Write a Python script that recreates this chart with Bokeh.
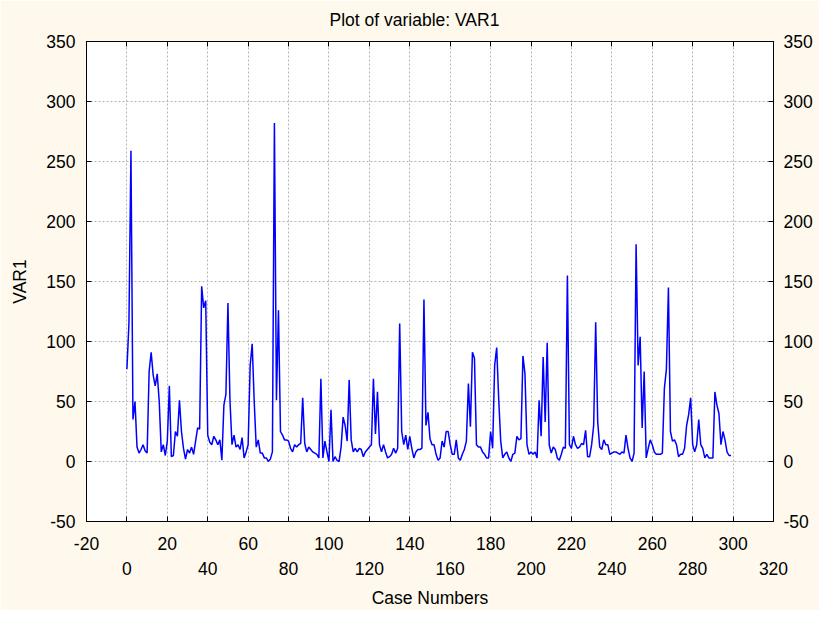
import numpy as np
from bokeh.plotting import figure
from bokeh.models import LinearAxis, FixedTicker, Range1d, ColumnDataSource
from bokeh.embed import file_html
from bokeh.resources import INLINE

# ---- data -------------------------------------------------------------
var1 = [
    77, 115, 259, 35, 50, 12, 7, 10, 14, 9,
    7, 75, 91, 72, 63, 73, 50, 8, 14, 5,
    17, 63, 4, 5, 25, 21, 51, 25, 11, 2,
    10, 7, 12, 6, 17, 28, 27, 146, 128, 134,
    22, 16, 14, 21, 18, 14, 18, 1, 47, 56,
    132, 51, 14, 22, 12, 14, 10, 20, 3, 8,
    14, 80, 98, 50, 12, 18, 7, 7, 3, 3,
    0, 2, 8, 282, 51, 126, 25, 22, 18, 18,
    17, 11, 8, 14, 12, 14, 15, 53, 15, 8,
    12, 10, 8, 7, 6, 3, 69, 3, 17, 8,
    0, 43, 0, 4, 1, 0, 12, 37, 30, 17,
    68, 18, 8, 11, 8, 11, 10, 4, 8, 10,
    12, 14, 69, 23, 58, 14, 8, 14, 8, 3,
    4, 6, 11, 7, 11, 115, 25, 14, 22, 10,
    21, 11, 3, 8, 10, 10, 11, 135, 30, 41,
    19, 14, 14, 6, 1, 3, 17, 12, 25, 25,
    14, 6, 6, 18, 3, 1, 6, 10, 17, 65,
    29, 91, 86, 14, 12, 12, 8, 6, 3, 3,
    25, 11, 80, 95, 52, 17, 3, 6, 8, 3,
    0, 6, 7, 21, 18, 19, 88, 73, 14, 6,
    8, 6, 8, 3, 51, 21, 87, 33, 99, 14,
    7, 12, 10, 3, 1, 6, 12, 11, 155, 14,
    11, 21, 14, 11, 12, 15, 14, 26, 4, 4,
    14, 30, 116, 33, 12, 10, 18, 14, 14, 6,
    7, 8, 8, 7, 6, 8, 7, 22, 11, 3,
    0, 7, 181, 80, 104, 28, 75, 3, 11, 18,
    14, 8, 6, 6, 6, 7, 61, 77, 145, 25,
    17, 18, 14, 4, 6, 6, 11, 30, 39, 53,
    14, 8, 14, 35, 14, 11, 3, 6, 3, 3,
    3, 58, 47, 40, 14, 25, 18, 8, 5, 5,
]
case_numbers = list(range(0, len(var1)))

x_ticks = list(range(-20, 321, 20))
x_labels_upper = list(range(-20, 301, 40))
x_labels_lower = list(range(0, 321, 40))
y_ticks = list(range(-50, 351, 50))

FONT = "Liberation Sans"
FS = "17.5px"
CREAM = "#FEF9EC"

src = ColumnDataSource(dict(x=case_numbers, y=var1))

p = figure(width=819, height=610,
           x_range=Range1d(-20, 320), y_range=Range1d(-50, 350),
           output_backend="svg", toolbar_location=None,
           min_border_left=86, min_border_right=46,
           min_border_top=40, min_border_bottom=88)

p.background_fill_color = "white"
p.border_fill_color = CREAM
p.outline_line_color = "black"
p.outline_line_width = 1

p.title.text = "Plot of variable: VAR1"
p.title.align = "left"
p.title.offset = 243
p.title.vertical_align = "top"
p.title.text_font = FONT
p.title.text_font_size = FS
p.title.text_font_style = "normal"
p.title.text_color = "black"
p.title.standoff = 19

# grid
p.xgrid.ticker = FixedTicker(ticks=x_ticks)
p.ygrid.ticker = FixedTicker(ticks=y_ticks)
for g in (p.xgrid, p.ygrid):
    g.grid_line_color = "#b4b4b4"
    g.grid_line_dash = "2 2"
    g.grid_line_width = 1


def style_axis(ax, ticks, minor=None, tick_in=5):
    ax.ticker = FixedTicker(ticks=ticks, minor_ticks=minor or [])
    ax.major_tick_in = tick_in
    ax.major_tick_out = 0
    ax.minor_tick_in = tick_in
    ax.minor_tick_out = 0
    ax.minor_tick_line_color = "black"
    ax.major_tick_line_color = "black"
    ax.axis_line_color = "black"
    ax.major_label_text_font = FONT
    ax.major_label_text_font_size = FS
    ax.major_label_text_color = "black"
    ax.axis_label_text_font = FONT
    ax.axis_label_text_font_size = FS
    ax.axis_label_text_font_style = "normal"
    ax.axis_label_text_color = "black"
    ax.major_label_overrides = {t: str(t) for t in ticks if t < 0}


# bottom axis (all tick marks + upper row of labels)
xa = p.xaxis[0]
style_axis(xa, x_labels_upper, minor=x_labels_lower)
xa.major_label_standoff = 15

# second bottom axis (lower row of labels)
xb = LinearAxis()
style_axis(xb, x_labels_lower, tick_in=0)
xb.axis_line_color = None
xb.major_tick_line_color = None
xb.minor_tick_line_color = None
xb.major_label_standoff = 9
xb.axis_label = "Case Numbers"
xb.axis_label_standoff = 10
p.add_layout(xb, "below")

# top axis: inside tick marks only
xt = LinearAxis()
style_axis(xt, [], minor=x_ticks)
p.add_layout(xt, "above")

# left axis
ya = p.yaxis[0]
style_axis(ya, y_ticks)
ya.major_label_standoff = 11
ya.axis_label = "VAR1"
ya.axis_label_standoff = 13

# right axis
yr = LinearAxis()
style_axis(yr, y_ticks)
yr.major_label_standoff = 10
p.add_layout(yr, "right")

p.line("x", "y", source=src, line_color="#0000FF", line_width=1.5)

open("out.html", "w").write(file_html(p, INLINE))
